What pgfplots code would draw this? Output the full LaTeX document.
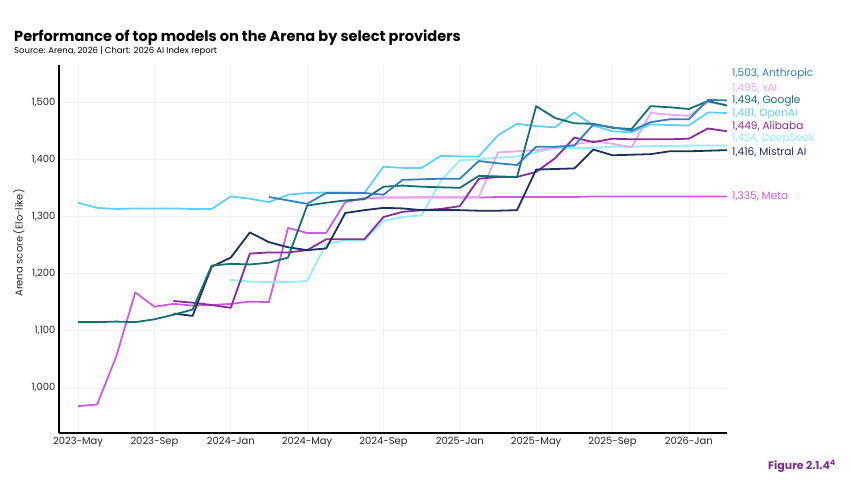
\documentclass[border=0pt]{standalone}
\usepackage{pgfplots}
\pgfplotsset{compat=1.18}
\usepackage{fontspec}
\setmainfont{Poppins}
\definecolor{cAnth}{HTML}{2F7FC1}
\definecolor{cxAI}{HTML}{E9A6F7}
\definecolor{cGoog}{HTML}{15706E}
\definecolor{cOpen}{HTML}{5FCFF7}
\definecolor{cAli}{HTML}{8A2B9C}
\definecolor{cDeep}{HTML}{93EEF3}
\definecolor{cMis}{HTML}{1D2F5E}
\definecolor{cMeta}{HTML}{CC5CE0}
\definecolor{cFig}{HTML}{7D2C8F}
\begin{document}
\begin{tikzpicture}[x=1bp,y=1bp]
\path[use as bounding box] (0,0) rectangle (850,-484);
\node[anchor=base west,inner sep=0pt,font=\fontsize{14.6}{16}\selectfont\bfseries] at (14,-42) {Performance of top models on the Arena by select providers};
\node[anchor=base west,inner sep=0pt,font=\fontsize{8.5}{10}\selectfont] at (14,-54) {Source: Arena, 2026 | Chart: 2026 AI Index report};
\begin{axis}[
  at={(59bp,-433bp)}, anchor=south west,
  scale only axis, width=668bp, height=368bp,
  xmin=-1, xmax=34, ymin=921, ymax=1565,
  axis lines=left, axis line style={-, line width=1.1pt, black},
  major tick length=0pt,
  grid=major, grid style={color=black!5, line width=0.6pt},
  xtick={0,4,8,12,16,20,24,28,32},
  xticklabels={2023-May,2023-Sep,2024-Jan,2024-May,2024-Sep,2025-Jan,2025-May,2025-Sep,2026-Jan},
  ytick={1000,1100,1200,1300,1400,1500},
  /pgf/number format/assume math mode=true,
  /pgf/number format/1000 sep={,},
  tick label style={font=\fontsize{10}{12}\selectfont, color=black!85},
  xticklabel style={yshift=-1bp},
  clip=false,
  every axis plot/.append style={line width=1.8pt, line join=round, no marks},
]
\addplot[color=cMeta] coordinates {(0,968)(1,971)(2,1055)(3,1167)(4,1142)(5,1147)(6,1144)(7,1145)(8,1147)(9,1151)(10,1150)(11,1280)(12,1271)(13,1271)(14,1325)(15,1332)(16,1333)(17,1333)(18,1333)(19,1333)(20,1333)(21,1333)(22,1334)(23,1334)(24,1334)(25,1334)(26,1334)(27,1335)(28,1335)(29,1335)(30,1335)(31,1335)(32,1335)(33,1335)(34,1335)};
\addplot[color=cDeep] coordinates {(8,1189)(9,1186)(10,1185)(11,1185)(12,1187)(13,1252)(14,1258)(15,1258)(16,1292)(17,1299)(18,1302)(19,1362)(20,1398)(21,1400)(22,1403)(23,1405)(24,1412)(25,1420)(26,1420)(27,1420)(28,1422)(29,1422)(30,1423)(31,1423)(32,1424)(33,1424)(34,1424)};
\addplot[color=cxAI] coordinates {(15,1333)(16,1333)(17,1333)(18,1334)(19,1334)(20,1334)(21,1334)(22,1412)(23,1414)(24,1416)(25,1420)(26,1426)(27,1432)(28,1427)(29,1421)(30,1481)(31,1478)(32,1476)(33,1500)(34,1495)};
\addplot[color=cOpen] coordinates {(0,1324)(1,1315)(2,1313)(3,1314)(4,1314)(5,1314)(6,1313)(7,1313)(8,1335)(9,1331)(10,1325)(11,1338)(12,1341)(13,1342)(14,1342)(15,1341)(16,1387)(17,1385)(18,1385)(19,1406)(20,1405)(21,1405)(22,1442)(23,1462)(24,1458)(25,1456)(26,1482)(27,1459)(28,1449)(29,1447)(30,1461)(31,1460)(32,1459)(33,1482)(34,1481)};
\addplot[color=cAli] coordinates {(5,1152)(6,1149)(7,1145)(8,1140)(9,1235)(10,1237)(11,1237)(12,1241)(13,1260)(14,1260)(15,1260)(16,1299)(17,1308)(18,1311)(19,1313)(20,1318)(21,1366)(22,1369)(23,1369)(24,1378)(25,1402)(26,1438)(27,1430)(28,1436)(29,1435)(30,1435)(31,1435)(32,1436)(33,1454)(34,1449)};
\addplot[color=cMis] coordinates {(5,1130)(6,1126)(7,1212)(8,1228)(9,1272)(10,1255)(11,1246)(12,1241)(13,1244)(14,1306)(15,1311)(16,1315)(17,1314)(18,1311)(19,1311)(20,1311)(21,1310)(22,1310)(23,1311)(24,1382)(25,1383)(26,1384)(27,1417)(28,1407)(29,1408)(30,1409)(31,1414)(32,1414)(33,1415)(34,1416)};
\addplot[color=cGoog] coordinates {(0,1115)(1,1115)(2,1116)(3,1115)(4,1120)(5,1128)(6,1137)(7,1214)(8,1217)(9,1216)(10,1219)(11,1228)(12,1319)(13,1324)(14,1328)(15,1330)(16,1352)(17,1354)(18,1352)(19,1351)(20,1350)(21,1371)(22,1370)(23,1369)(24,1493)(25,1472)(26,1463)(27,1462)(28,1455)(29,1453)(30,1493)(31,1491)(32,1488)(33,1502)(34,1494)};
\addplot[color=cAnth] coordinates {(10,1334)(11,1328)(12,1322)(13,1341)(14,1341)(15,1341)(16,1338)(17,1364)(18,1365)(19,1366)(20,1366)(21,1397)(22,1393)(23,1390)(24,1422)(25,1422)(26,1424)(27,1461)(28,1456)(29,1450)(30,1465)(31,1470)(32,1470)(33,1504)(34,1503)};
\end{axis}
\node[rotate=90,inner sep=0pt,font=\fontsize{10}{11}\selectfont,color=black!85] at (19,-243) {Arena score (Elo-like)};
\begin{scope}[every node/.style={anchor=west,inner sep=0pt,font=\fontsize{10.6}{12}\selectfont}]
\node[color=cAnth] at (732,-74) {1,503, Anthropic};
\node[color=cxAI] at (732,-88) {1,495, xAI};
\node[color=cGoog] at (732,-101) {1,494, Google};
\node[color=cOpen] at (732,-114) {1,481, OpenAI};
\node[color=cAli] at (732,-126) {1,449, Alibaba};
\node[color=cDeep] at (732,-139) {1,424, DeepSeek};
\node[color=cMis] at (732,-152) {1,416, Mistral AI};
\node[color=cMeta] at (732,-196) {1,335, Meta};
\end{scope}
\node[anchor=base west,inner sep=0pt,font=\fontsize{11}{12}\selectfont\bfseries,color=cFig] at (768,-469) {Figure 2.1.4\textsuperscript{4}};
\end{tikzpicture}
\end{document}
